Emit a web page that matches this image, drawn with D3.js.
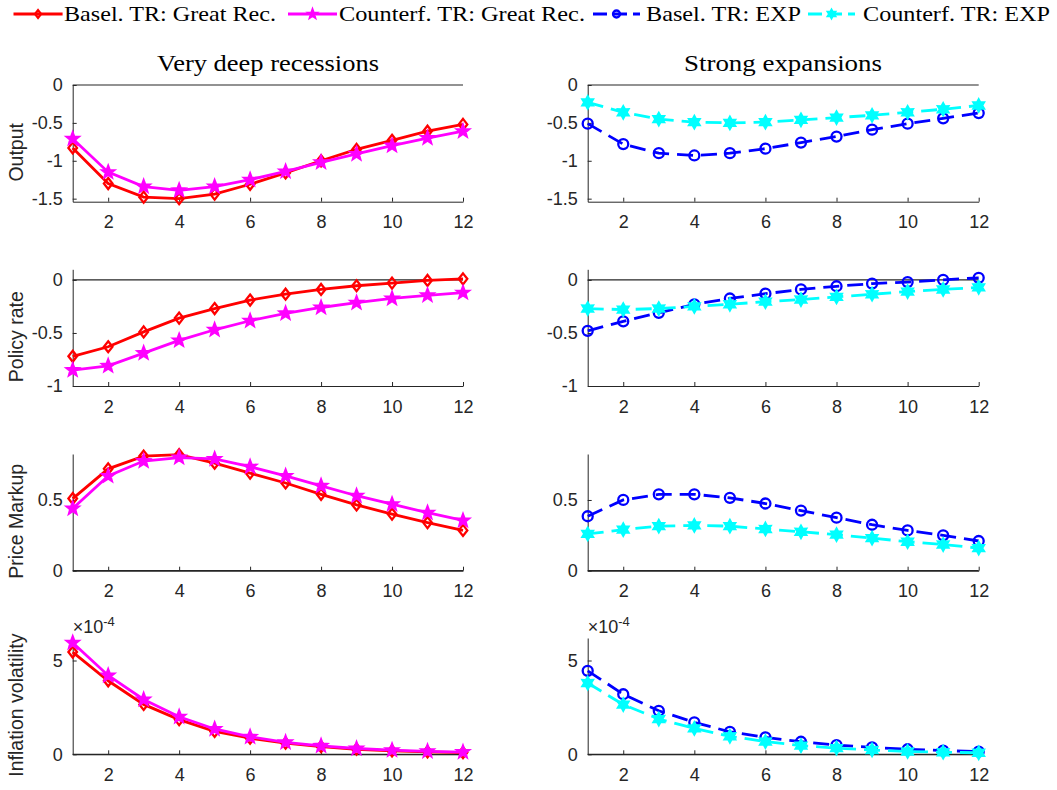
<!DOCTYPE html>
<html>
<head>
<meta charset="utf-8">
<script src="https://cdn.jsdelivr.net/npm/d3@7"></script>
<style>
  body { margin: 0; background: #fff; }
  svg { display: block; }
  .tick-label { font-family: "Liberation Sans", Arial, sans-serif; font-size: 18px; fill: #262626; }
  .ylab { font-family: "Liberation Sans", Arial, sans-serif; font-size: 19.5px; fill: #262626; }
  .serif { font-family: "Liberation Serif", "Times New Roman", serif; font-size: 22px; fill: #000; }
  .title { font-size: 24px; }
</style>
</head>
<body>
<svg id="chart" width="1057" height="790"></svg>
<script>
////////////////////////////////////////////////////////////////////////////////////
// Data
var periods = [1, 2, 3, 4, 5, 6, 7, 8, 9, 10, 11, 12];
var xTicks = [2, 4, 6, 8, 10, 12];

var colTitles = ["Very deep recessions", "Strong expansions"];
var rowLabels = ["Output", "Policy rate", "Price Markup", "Inflation volatility"];
var legendLabels = ["Basel. TR: Great Rec.", "Counterf. TR: Great Rec.", "Basel. TR: EXP", "Counterf. TR: EXP"];

// Output
var outRecBasel = [-0.83, -1.30, -1.48, -1.50, -1.44, -1.31, -1.16, -1.00, -0.85, -0.73, -0.61, -0.52];
var outRecCf    = [-0.71, -1.15, -1.34, -1.39, -1.34, -1.25, -1.14, -1.02, -0.91, -0.80, -0.70, -0.61];
var outExpBasel = [-0.51, -0.78, -0.90, -0.93, -0.90, -0.84, -0.76, -0.68, -0.59, -0.51, -0.44, -0.37];
var outExpCf    = [-0.23, -0.36, -0.45, -0.49, -0.50, -0.49, -0.46, -0.43, -0.40, -0.36, -0.32, -0.27];
// Policy rate
var rateRecBasel = [-0.72, -0.63, -0.49, -0.36, -0.27, -0.19, -0.135, -0.09, -0.055, -0.03, -0.005, 0.01];
var rateRecCf    = [-0.85, -0.81, -0.69, -0.57, -0.47, -0.385, -0.315, -0.26, -0.215, -0.175, -0.145, -0.12];
var rateExpBasel = [-0.48, -0.39, -0.31, -0.23, -0.175, -0.13, -0.09, -0.06, -0.035, -0.02, 0.0, 0.02];
var rateExpCf    = [-0.27, -0.28, -0.27, -0.25, -0.23, -0.205, -0.185, -0.16, -0.135, -0.11, -0.09, -0.07];
// Price markup
var markRecBasel = [0.51, 0.72, 0.81, 0.82, 0.76, 0.69, 0.62, 0.54, 0.465, 0.40, 0.34, 0.285];
var markRecCf    = [0.44, 0.67, 0.775, 0.80, 0.79, 0.735, 0.67, 0.60, 0.53, 0.47, 0.41, 0.355];
var markExpBasel = [0.385, 0.50, 0.54, 0.54, 0.515, 0.475, 0.425, 0.375, 0.325, 0.285, 0.25, 0.21];
var markExpCf    = [0.26, 0.29, 0.315, 0.32, 0.315, 0.295, 0.275, 0.255, 0.23, 0.205, 0.185, 0.16];
// Inflation volatility
var inflRecBasel = [5.45e-4, 3.92e-4, 2.66e-4, 1.85e-4, 1.22e-4, 0.86e-4, 0.59e-4, 0.41e-4, 0.27e-4, 0.18e-4, 0.13e-4, 0.09e-4];
var inflRecCf    = [5.95e-4, 4.20e-4, 2.92e-4, 2.00e-4, 1.35e-4, 0.93e-4, 0.64e-4, 0.45e-4, 0.31e-4, 0.22e-4, 0.16e-4, 0.12e-4];
var inflExpBasel = [4.45e-4, 3.20e-4, 2.32e-4, 1.70e-4, 1.20e-4, 0.90e-4, 0.67e-4, 0.49e-4, 0.37e-4, 0.27e-4, 0.20e-4, 0.14e-4];
var inflExpCf    = [3.80e-4, 2.65e-4, 1.88e-4, 1.38e-4, 0.96e-4, 0.68e-4, 0.46e-4, 0.33e-4, 0.23e-4, 0.15e-4, 0.11e-4, 0.08e-4];

var yDomains = [[-1.54, 0], [-1, 0.1], [0, 0.825], [0, 6.2e-4]];
var yTickVals = [[-1.5, -1, -0.5, 0], [-1, -0.5, 0], [0, 0.5], [0, 5e-4]];

////////////////////////////////////////////////////////////////////////////////////
// Styles per series
var styles = {
  recBasel: { color: "#ff0000", dash: null, marker: "diamond", fill: "none" },
  recCf:    { color: "#ff00ff", dash: null, marker: "pentagram", fill: "#ff00ff" },
  expBasel: { color: "#0000ff", dash: "16,8", marker: "circle", fill: "none" },
  expCf:    { color: "#00ffff", dash: "16,8", marker: "hexagram", fill: "#00ffff" }
};

var panels = [
  [[outRecBasel, "recBasel"], [outRecCf, "recCf"]], [[outExpBasel, "expBasel"], [outExpCf, "expCf"]],
  [[rateRecBasel, "recBasel"], [rateRecCf, "recCf"]], [[rateExpBasel, "expBasel"], [rateExpCf, "expCf"]],
  [[markRecBasel, "recBasel"], [markRecCf, "recCf"]], [[markExpBasel, "expBasel"], [markExpCf, "expCf"]],
  [[inflRecBasel, "recBasel"], [inflRecCf, "recCf"]], [[inflExpBasel, "expBasel"], [inflExpCf, "expCf"]]
];

// layout
var colX = [[72.7, 463], [587.7, 978.7]];
var rowY = [[201.7, 85], [386, 269.3], [570.7, 454], [754.3, 638]];

var svg = d3.select("#chart");

////////////////////////////////////////////////////////////////////////////////////
// marker paths
function starPath(n, R, r) {
  var pts = [];
  for (var i = 0; i < 2 * n; i++) {
    var a = -Math.PI / 2 + i * Math.PI / n;
    var rad = (i % 2 == 0) ? R : r;
    pts.push([rad * Math.cos(a), rad * Math.sin(a)]);
  }
  return "M" + pts.map(function(p) { return p[0].toFixed(2) + "," + p[1].toFixed(2); }).join("L") + "Z";
}
function markerPath(type, s) {
  if (type == "diamond") return "M0," + (-5.5 * s) + "L" + (4.3 * s) + ",0L0," + (5.5 * s) + "L" + (-4.3 * s) + ",0Z";
  if (type == "pentagram") return starPath(5, 6.2 * s, 2.6 * s);
  if (type == "hexagram") return starPath(6, 6 * s, 3.4 * s);
  var r = 5 * s;
  return "M" + r + ",0A" + r + "," + r + " 0 1,1 " + (-r) + ",0A" + r + "," + r + " 0 1,1 " + r + ",0Z";
}

function drawMarker(g, type, st, x, y, s) {
  g.append("path")
   .attr("d", markerPath(type, s))
   .attr("transform", "translate(" + x + "," + y + ")")
   .attr("fill", st.fill)
   .attr("stroke", st.color)
   .attr("stroke-width", 2.3);
}

////////////////////////////////////////////////////////////////////////////////////
// Panels
panels.forEach(function(series, idx) {
  var row = Math.floor(idx / 2), col = idx % 2;
  var xScale = d3.scaleLinear().domain([1, 12]).range(colX[col]);
  var yScale = d3.scaleLinear().domain(yDomains[row]).range(rowY[row]);
  var g = svg.append("g");
  var isInfl = (row == 3);

  // zero line
  g.append("line")
   .attr("x1", xScale(1)).attr("x2", xScale(12))
   .attr("y1", yScale(0)).attr("y2", yScale(0))
   .attr("stroke", "#262626").attr("stroke-width", 1.2);

  // x axis
  var xAxis = d3.axisBottom(xScale).tickValues(xTicks).tickSizeInner(-4).tickSizeOuter(0).tickPadding(14);
  var gx = g.append("g").attr("transform", "translate(0," + rowY[row][0] + ")").call(xAxis);
  // y axis
  var yAxis = d3.axisLeft(yScale).tickValues(yTickVals[row]).tickSizeInner(-4).tickSizeOuter(0).tickPadding(10)
                .tickFormat(function(d) { return isInfl ? String(Math.round(d / 1e-4)) : String(d); });
  var gy = g.append("g").attr("transform", "translate(" + colX[col][0] + ",0)").call(yAxis);

  [gx, gy].forEach(function(ax) {
    ax.select(".domain").attr("stroke", "#262626").attr("stroke-width", 1);
    ax.selectAll(".tick line").attr("stroke", "#262626").attr("stroke-width", 1);
    ax.selectAll(".tick text").attr("class", "tick-label").attr("fill", null);
    ax.attr("font-family", null).attr("font-size", null);
  });
  gx.selectAll(".tick text").attr("dy", "0.71em");

  // series
  series.forEach(function(s) {
    var st = styles[s[1]];
    var line = d3.line()
                 .x(function(d, i) { return xScale(periods[i]); })
                 .y(function(d) { return yScale(d); });
    g.append("path")
     .datum(s[0])
     .attr("d", line)
     .attr("fill", "none")
     .attr("stroke", st.color)
     .attr("stroke-width", 2.8)
     .attr("stroke-dasharray", st.dash);
    s[0].forEach(function(v, i) {
      drawMarker(g, st.marker, st, xScale(periods[i]), yScale(v), 1);
    });
  });

  // exponent
  if (isInfl) {
    var ex = g.append("text").attr("class", "tick-label")
              .attr("x", colX[col][0]).attr("y", rowY[row][1] - 5);
    ex.append("tspan").text("\u00d710");
    ex.append("tspan").attr("dy", -7).attr("font-size", "13px").text("-4");
  }

  // row label
  if (col == 0) {
    var cy = (rowY[row][0] + rowY[row][1]) / 2 + 9;
    svg.append("text").attr("class", "ylab")
       .attr("transform", "translate(16," + cy + ") rotate(-90)")
       .attr("text-anchor", "middle")
       .attr("dominant-baseline", "central")
       .text(rowLabels[row]);
  }
});

////////////////////////////////////////////////////////////////////////////////////
// Titles
var titleX = [268, 783], titleW = [222, 198];
colTitles.forEach(function(t, i) {
  svg.append("text").attr("class", "serif title")
     .attr("x", titleX[i] - titleW[i] / 2).attr("y", 71)
     .attr("textLength", titleW[i])
     .attr("lengthAdjust", "spacingAndGlyphs")
     .text(t);
});

////////////////////////////////////////////////////////////////////////////////////
// Legend
var legKeys = ["recBasel", "recCf", "expBasel", "expCf"];
var legLineX = [[13.5, 62.6], [288, 337], [593, 640], [808, 855]];
var legTextX = [64, 339, 646, 863];
var legTextW = [212, 246, 155, 187];
legKeys.forEach(function(k, i) {
  var st = styles[k];
  svg.append("line")
     .attr("x1", legLineX[i][0]).attr("x2", legLineX[i][1])
     .attr("y1", 14).attr("y2", 14)
     .attr("stroke", st.color).attr("stroke-width", 2.8)
     .attr("stroke-dasharray", st.dash ? "14,6" : null);
  drawMarker(svg, st.marker, st, (legLineX[i][0] + legLineX[i][1]) / 2, 14, 0.7);
  svg.append("text").attr("class", "serif")
     .attr("x", legTextX[i]).attr("y", 21)
     .attr("textLength", legTextW[i])
     .attr("lengthAdjust", "spacingAndGlyphs")
     .text(legendLabels[i]);
});
</script>
</body>
</html>
